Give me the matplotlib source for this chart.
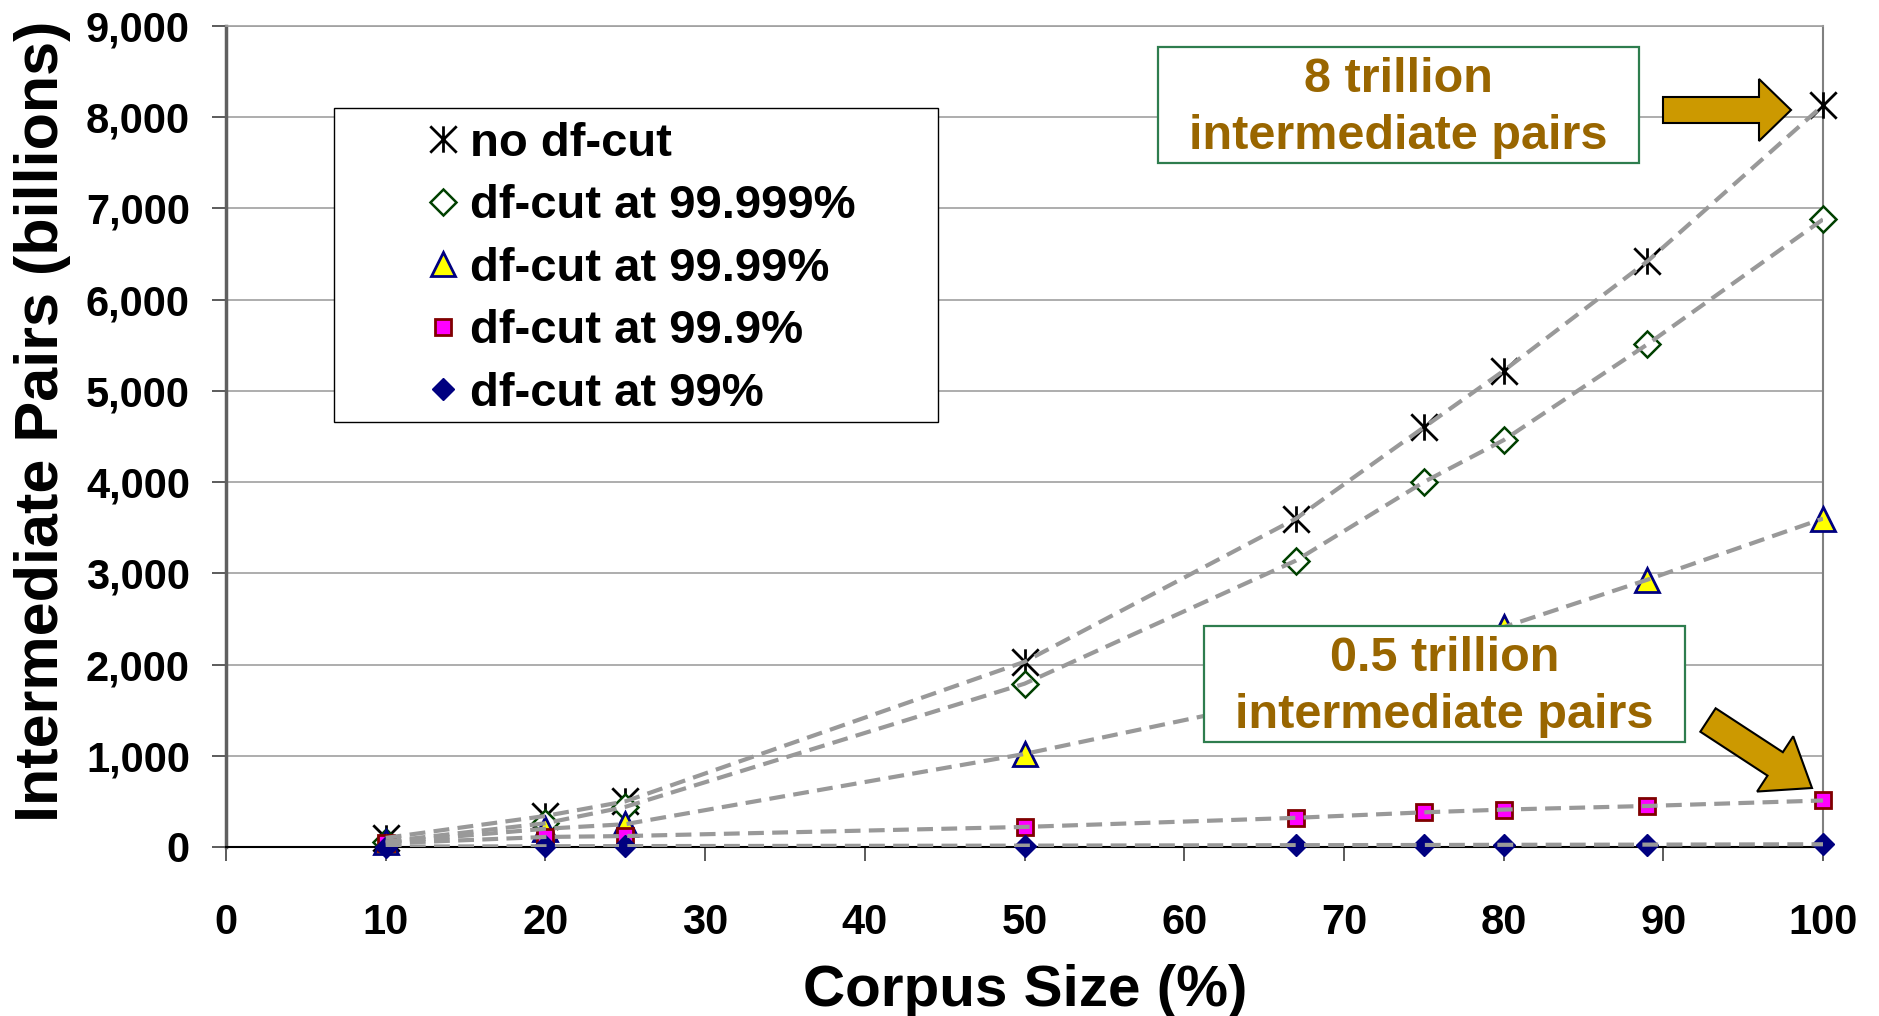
import matplotlib
matplotlib.use('Agg')
import matplotlib.pyplot as plt
from matplotlib.patches import Rectangle, FancyArrow
from matplotlib.path import Path
from matplotlib.transforms import IdentityTransform
from matplotlib.ticker import FuncFormatter

# --- data ---
corpus_size = [10, 20, 25, 50, 67, 75, 80, 89, 100]
no_cut = [100, 340, 500, 2030, 3600, 4600, 5220, 6420, 8130]
cut_99999 = [60, 260, 440, 1790, 3140, 4000, 4460, 5510, 6880]
cut_9999 = [50, 200, 250, 1020, 1650, 2050, 2410, 2930, 3600]
cut_999 = [40, 110, 120, 220, 320, 380, 410, 450, 510]
cut_99 = [5, 8, 10, 15, 20, 22, 24, 26, 30]

series_labels = ['no df-cut', 'df-cut at 99.999%', 'df-cut at 99.99%',
                 'df-cut at 99.9%', 'df-cut at 99%']
x_ticks = list(range(0, 101, 10))
y_ticks = list(range(0, 9001, 1000))

plt.rcParams['font.family'] = 'Liberation Sans'
plt.rcParams['font.weight'] = 'bold'

# Excel style "X with a bar" marker
star_marker = Path([(-1, -1), (1, 1), (-1, 1), (1, -1), (0, -1), (0, 1)],
                   [Path.MOVETO, Path.LINETO, Path.MOVETO, Path.LINETO,
                    Path.MOVETO, Path.LINETO])

W, H = 1879, 1016
fig = plt.figure(figsize=(W / 100, H / 100), dpi=100)
ax = fig.add_axes([226 / W, 1 - 847 / H, (1823 - 226) / W, (847 - 26) / H])

# marker styles per series
styles = [
    dict(marker=star_marker, ms=19, mec='black', mfc='none', mew=2.0),
    dict(marker='D', ms=13, mec='#004000', mfc='white', mew=1.8),
    dict(marker='^', ms=17, mec='#000080', mfc='yellow', mew=2.0),
    dict(marker='s', ms=11, mec='#800000', mfc='#FF00FF', mew=2.0),
    dict(marker='D', ms=11, mec='#000080', mfc='#000080', mew=1.0),
]
all_series = [no_cut, cut_99999, cut_9999, cut_999, cut_99]

handles = []
for vals, st in zip(all_series, styles):
    h, = ax.plot(corpus_size, vals, linestyle='none', zorder=3, clip_on=False, **st)
    handles.append(h)
    ax.plot(corpus_size, vals, color='#999999', lw=3.0, dashes=(3.8, 2.0), zorder=4)

# --- axes look ---
ax.set_xlim(0, 100)
ax.set_ylim(0, 9000)
ax.set_xticks(x_ticks)
ax.set_yticks(y_ticks)
ax.yaxis.set_major_formatter(FuncFormatter(lambda v, p: f'{v:,.0f}'))
ax.tick_params(axis='both', direction='out', length=10, width=1.2, colors='#404040',
               labelcolor='black', labelsize=30)
ax.tick_params(axis='y', pad=16)
ax.tick_params(axis='x', pad=30)
for lab in ax.get_xticklabels() + ax.get_yticklabels():
    lab.set_fontweight('bold')

ax.yaxis.grid(True, color='#A0A0A0', lw=1.2)
ax.set_axisbelow(True)
ax.spines['left'].set_color('#606060')
ax.spines['left'].set_linewidth(2.5)
ax.spines['bottom'].set_color('black')
ax.spines['bottom'].set_linewidth(1.5)
ax.spines['right'].set_color('#808080')
ax.spines['right'].set_linewidth(1.5)
ax.spines['top'].set_color('#A0A0A0')
ax.spines['top'].set_linewidth(1.2)

# axis titles
fig.text(43 / W, 1 - 421 / H, 'Intermediate Pairs (billions)', rotation=90,
         ha='center', va='center', fontsize=44, fontweight='bold')
fig.text(1025 / W, (H - 1006) / H, 'Corpus Size (%)', ha='center', va='baseline',
         fontsize=42, fontweight='bold')

# --- legend (frame drawn separately) ---
fig.add_artist(Rectangle((334 / W, 1 - 422 / H), (938 - 334) / W, (422 - 108) / H,
                         transform=fig.transFigure, facecolor='white',
                         edgecolor='black', lw=1.0, zorder=3))
leg = fig.legend(handles, series_labels, loc='upper left',
                 bbox_to_anchor=(428 / W, 1 - 122 / H), frameon=False,
                 prop=dict(size=34, weight='bold'), handlelength=0.64,
                 handletextpad=0.25, labelspacing=0.39, borderpad=0, borderaxespad=0)
leg.set_zorder(6)

# --- callout boxes + arrows ---
callouts = [
    ((1158, 47, 1639, 163), '8 trillion\nintermediate pairs'),
    ((1204, 626, 1685, 742), '0.5 trillion\nintermediate pairs'),
]
for (x0, y0, x1, y1), txt in callouts:
    fig.add_artist(Rectangle((x0 / W, 1 - y1 / H), (x1 - x0) / W, (y1 - y0) / H,
                             transform=fig.transFigure, facecolor='white',
                             edgecolor='#2E7D4E', lw=1.6, zorder=3))
    fig.text((x0 + x1) / 2 / W, 1 - (y0 + y1) / 2 / H - 0.003, txt, ha='center',
             va='center', fontsize=35, fontweight='bold', color='#996600',
             linespacing=1.35, zorder=6)

arrows = [
    (1663, H - 110, 128, 0, 26, 62, 32),
    (1708, H - 720, 104, -68, 28, 66, 44),
]
for x, y, dx, dy, w, hw, hl in arrows:
    fig.add_artist(FancyArrow(x, y, dx, dy, width=w, head_width=hw, head_length=hl,
                              length_includes_head=True, facecolor='#CC9900',
                              edgecolor='black', lw=1.5, transform=IdentityTransform(),
                              zorder=6))

fig.savefig('out.png', dpi=100)
